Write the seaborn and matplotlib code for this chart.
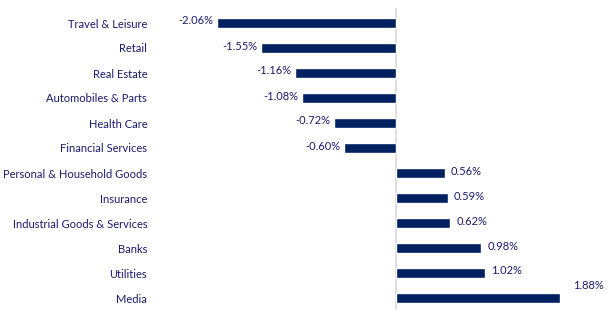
import matplotlib
matplotlib.use("Agg")
import matplotlib.pyplot as plt
import seaborn as sns
import pandas as pd

categories = ["Travel & Leisure", "Retail", "Real Estate", "Automobiles & Parts",
              "Health Care", "Financial Services", "Personal & Household Goods",
              "Insurance", "Industrial Goods & Services", "Banks", "Utilities", "Media"]
values = [-2.06, -1.55, -1.16, -1.08, -0.72, -0.60, 0.56, 0.59, 0.62, 0.98, 1.02, 1.88]
labels = ["-2.06%", "-1.55%", "-1.16%", "-1.08%", "-0.72%", "-0.60%",
          "0.56%", "0.59%", "0.62%", "0.98%", "1.02%", "1.88%"]

sns.set_theme(style="white")
plt.rcParams['font.family'] = ['Lato', 'DejaVu Sans']

df = pd.DataFrame({"cat": categories, "val": values})

fig = plt.figure(figsize=(6.12, 3.27), dpi=100)
ax = fig.add_axes([150/612, 1-310/327, (605-150)/612, (310-8)/327])

bar_color = "#002060"
text_color = "#1a1a6e"

sns.barplot(data=df, y="cat", x="val", orient="h", color=bar_color,
            width=0.4, ax=ax, saturation=1)

ax.set_xlim(-2.83, 2.40)
ax.set_ylim(11.48, -0.6)
ax.axvline(0, color="#d9d9d9", lw=1.2, zorder=0)

for s in ax.spines.values():
    s.set_visible(False)
ax.set_xticks([])
ax.set_xlabel("")
ax.set_ylabel("")
ax.tick_params(axis="y", length=0, pad=2, labelsize=8, labelcolor=text_color)

for i, (v, lab) in enumerate(zip(values, labels)):
    if i == len(values) - 1:
        ax.text(v + 0.15, i - 0.5, lab, ha="left", va="center", fontsize=8, color=text_color)
    elif v < 0:
        ax.text(v - 0.04, i - 0.08, lab, ha="right", va="center", fontsize=8, color=text_color)
    else:
        ax.text(v + 0.07, i - 0.08, lab, ha="left", va="center", fontsize=8, color=text_color)

fig.savefig("out.png", dpi=100, facecolor="white")
